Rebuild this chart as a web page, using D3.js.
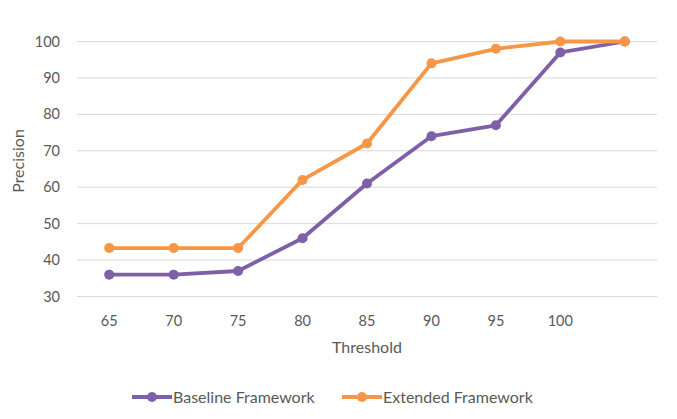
<!DOCTYPE html>
<html><head><meta charset="utf-8">
<script src="https://cdn.jsdelivr.net/npm/d3@7"></script>
<style>body{margin:0;background:#fff;} svg{display:block;font-family:Lato,'Open Sans',sans-serif;}</style>
</head><body>
<svg id="c" width="677" height="419"></svg>
<script>
const categories = ["65","70","75","80","85","90","95","100",""];
const baseline = [36,36,37,46,61,74,77,97,100];
const extended = [43.3,43.3,43.3,62,72,94,98,100,100];
const yTicks = [30,40,50,60,70,80,90,100];
const seriesNames = ["Baseline Framework","Extended Framework"];
const colors = ["#7E60A8","#F79646"];

const svg = d3.select("#c");
const x = d3.scaleBand().domain(d3.range(categories.length)).range([77,657]);
const y = d3.scaleLinear().domain([30,100]).range([296.5,41.5]);
const cx = i => x(i)+x.bandwidth()/2;

// grid
svg.append("g").selectAll("line").data(yTicks).join("line")
  .attr("x1",77).attr("x2",657).attr("y1",d=>y(d)).attr("y2",d=>y(d))
  .attr("stroke","#d9d9d9").attr("stroke-width",1);
// y labels
svg.append("g").selectAll("text").data(yTicks).join("text")
  .attr("x",60).attr("y",d=>y(d)).attr("dy","0.35em").attr("text-anchor","end")
  .attr("fill","#595959").attr("font-size",14.5).text(d=>d);
// x labels
svg.append("g").selectAll("text").data(categories).join("text")
  .attr("x",(d,i)=>cx(i)).attr("y",320.5).attr("dy","0.35em").attr("text-anchor","middle")
  .attr("fill","#595959").attr("font-size",14.5).text(d=>d);
// titles
svg.append("text").attr("x",367).attr("y",347.5).attr("dy","0.35em").attr("text-anchor","middle")
  .attr("fill","#595959").attr("font-size",16).text("Threshold");
svg.append("text").attr("transform","translate(18,161) rotate(-90)").attr("dy","0.35em").attr("text-anchor","middle")
  .attr("fill","#595959").attr("font-size",16).text("Precision");

const line = d3.line().x((d,i)=>cx(i)).y(d=>y(d));
[baseline, extended].forEach((s,k)=>{
  svg.append("path").datum(s).attr("d",line).attr("fill","none")
    .attr("stroke",colors[k]).attr("stroke-width",3.8).attr("stroke-linejoin","round");
  svg.append("g").selectAll("circle").data(s).join("circle")
    .attr("cx",(d,i)=>cx(i)).attr("cy",d=>y(d)).attr("r",5)
    .attr("fill",colors[k]);
});

// legend
const lx = [132, 342];
seriesNames.forEach((n,k)=>{
  const g = svg.append("g").attr("transform",`translate(${lx[k]},397)`);
  g.append("line").attr("x1",0).attr("x2",40).attr("stroke",colors[k]).attr("stroke-width",3.8);
  g.append("circle").attr("cx",20).attr("r",5).attr("fill",colors[k]);
  g.append("text").attr("x",41).attr("dy","0.35em").attr("fill","#595959").attr("font-size",16).text(n);
});
</script>
</body></html>
